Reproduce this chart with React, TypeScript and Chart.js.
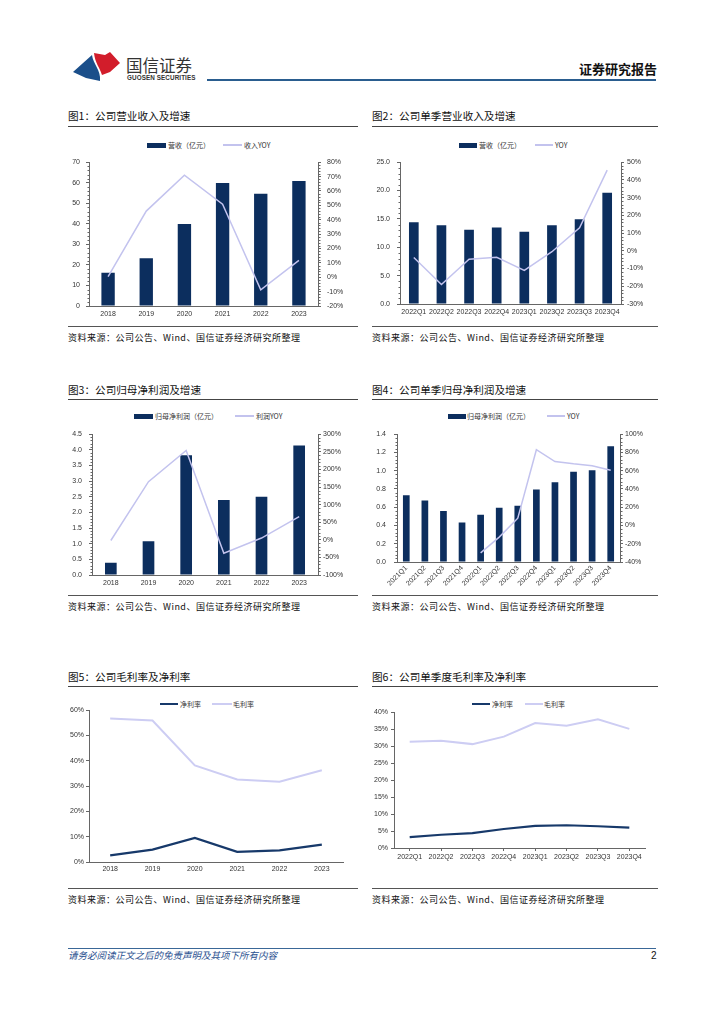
import React, { useEffect, useRef } from 'react';
import { Chart, registerables } from 'chart.js';
Chart.register(...registerables);

// ---------- data ----------
const years = ['2018', '2019', '2020', '2021', '2022', '2023'];
const quarters8 = ['2022Q1', '2022Q2', '2022Q3', '2022Q4', '2023Q1', '2023Q2', '2023Q3', '2023Q4'];
const quarters12 = ['2021Q1', '2021Q2', '2021Q3', '2021Q4', '2022Q1', '2022Q2', '2022Q3', '2022Q4', '2023Q1', '2023Q2', '2023Q3', '2023Q4'];

const revenue = [16.2, 23.3, 39.9, 59.9, 54.7, 60.9];
const revenueYoy = [0.4, 46, 71, 50.8, -8.7, 11.7];

const qRevenue = [14.4, 13.9, 13.1, 13.5, 12.75, 13.9, 14.95, 19.6];
const qRevenueYoy = [-3.8, -19, -4.7, -3.6, -11, -0.5, 13, 45.5];

const profit = [0.39, 1.08, 3.83, 2.4, 2.5, 4.14];
const profitYoy = [-2, 165, 254, -38, 5, 66];

const qProfit = [0.73, 0.675, 0.56, 0.434, 0.518, 0.595, 0.616, 0.795, 0.875, 0.99, 1.005, 1.267];
const qProfitYoy = [null, null, null, null, -30, -12.7, 8, 83, 70, 67.5, 65.5, 60.5];

const grossMargin = [56.7, 55.9, 38.2, 32.6, 31.7, 36.3];
const netMargin = [2.6, 4.9, 9.5, 4.0, 4.6, 6.9];

const qGrossMargin = [31.3, 31.6, 30.6, 32.8, 36.8, 36.0, 37.9, 35.1];
const qNetMargin = [3.2, 3.9, 4.4, 5.6, 6.5, 6.7, 6.4, 6.0];

const legend1 = ['营收（亿元）', '收入YOY'];
const legend2 = ['营收（亿元）', 'YOY'];
const legend3 = ['归母净利润（亿元）', '利润YOY'];
const legend4 = ['归母净利润（亿元）', 'YOY'];
const legend56 = ['净利率', '毛利率'];

const titles = [
  '图1：公司营业收入及增速',
  '图2：公司单季营业收入及增速',
  '图3：公司归母净利润及增速',
  '图4：公司单季归母净利润及增速',
  '图5：公司毛利率及净利率',
  '图6：公司单季度毛利率及净利率',
];
const sourceText = '资料来源：公司公告、Wind、国信证券经济研究所整理';

// ---------- styles ----------
const CJK = "'Noto Sans CJK SC', 'Noto Sans', sans-serif";
const LAT = "'Liberation Sans', Arial, sans-serif";
const NAVY = '#0c2e5e';
const NAVY2 = '#17396a';
const LAV = '#c3c3ee';
const LAV2 = '#cdcdf3';
const AXIS = '#666';
const TICK = '#333';

Chart.defaults.font.family = LAT;
Chart.defaults.font.size = 7;
Chart.defaults.color = TICK;

const minorTicksPlugin = {
  id: 'minorTicks',
  afterDraw(chart: any, _args: any, opts: any) {
    const list = (opts && opts.scales) || [];
    const ctx = chart.ctx;
    ctx.save();
    ctx.strokeStyle = AXIS;
    ctx.lineWidth = 1;
    list.forEach(({ id, n }: any) => {
      const s = chart.scales[id];
      if (!s) return;
      const ticks = s.ticks;
      for (let i = 0; i < ticks.length - 1; i++) {
        const v0 = ticks[i].value;
        const v1 = ticks[i + 1].value;
        for (let k = 1; k < n; k++) {
          const y = Math.round(s.getPixelForValue(v0 + ((v1 - v0) * k) / n)) + 0.5;
          const x = s.position === 'left' ? Math.round(s.right) + 0.5 : Math.round(s.left) + 0.5;
          ctx.beginPath();
          ctx.moveTo(x, y);
          ctx.lineTo(s.position === 'left' ? x - 2 : x + 2, y);
          ctx.stroke();
        }
      }
    });
    ctx.restore();
  },
};

const fixW = (w: number) => (scale: any) => { scale.width = w; };
const fixH = (h: number) => (scale: any) => { scale.height = h; };

function yAxis(pos: string, min: number, max: number, step: number, w: number, pad: number, fmt: (v: number) => string) {
  return {
    position: pos,
    min,
    max,
    grid: { display: true, drawOnChartArea: false, drawTicks: true, tickLength: 3, color: AXIS },
    border: { display: true, color: AXIS },
    ticks: { stepSize: step, padding: pad, color: TICK, font: { size: 7, family: LAT }, callback: (v: any) => fmt(Number(v)) },
    afterFit: fixW(w),
  };
}

function xAxis(h: number, pad: number, rotate: boolean, drawTicks: boolean) {
  return {
    offset: true,
    grid: drawTicks
      ? { display: true, drawOnChartArea: false, drawTicks: true, tickLength: 3, color: AXIS }
      : { display: false, drawTicks: false },
    border: { display: true, color: AXIS },
    ticks: {
      padding: pad,
      autoSkip: false,
      maxRotation: rotate ? 45 : 0,
      minRotation: rotate ? 45 : 0,
      color: TICK,
      font: { size: 7, family: LAT },
    },
    afterFit: fixH(h),
  };
}

const pct = (v: number) => `${Math.round(v)}%`;
const int = (v: number) => `${Math.round(v)}`;
const dec1 = (v: number) => v.toFixed(1);

function barLine(p: any) {
  return {
    type: 'bar',
    data: {
      labels: p.labels,
      datasets: [
        {
          type: 'line',
          label: p.names[1],
          data: p.line,
          yAxisID: 'y1',
          borderColor: LAV,
          backgroundColor: LAV,
          borderWidth: 1.5,
          pointRadius: 0,
          tension: 0,
          order: 0,
        },
        {
          type: 'bar',
          label: p.names[0],
          data: p.bars,
          yAxisID: 'y',
          backgroundColor: NAVY,
          borderWidth: 0,
          barPercentage: p.barPct,
          categoryPercentage: 1,
          order: 1,
        },
      ],
    },
    options: {
      animation: false,
      responsive: true,
      maintainAspectRatio: false,
      layout: { padding: { top: 6, left: 0, right: 0, bottom: 0 } },
      plugins: {
        legend: { display: false },
        tooltip: { enabled: false },
        minorTicks: { scales: [{ id: 'y', n: 5 }, { id: 'y1', n: 5 }] },
      },
      scales: {
        x: xAxis(p.xH, p.xPad, !!p.rotate, false),
        y: yAxis('left', p.y[0], p.y[1], p.y[2], p.leftW, p.leftPad, p.yFmt),
        y1: yAxis('right', p.y1[0], p.y1[1], p.y1[2], p.rightW, p.rightPad, pct),
      },
    },
    plugins: [minorTicksPlugin],
  };
}

function twoLines(p: any) {
  return {
    type: 'line',
    data: {
      labels: p.labels,
      datasets: [
        {
          label: legend56[0],
          data: p.net,
          borderColor: NAVY2,
          backgroundColor: NAVY2,
          borderWidth: 2.2,
          pointRadius: 0,
          tension: 0,
          order: 0,
        },
        {
          label: legend56[1],
          data: p.gross,
          borderColor: LAV2,
          backgroundColor: LAV2,
          borderWidth: 2,
          pointRadius: 0,
          tension: 0,
          order: 1,
        },
      ],
    },
    options: {
      animation: false,
      responsive: true,
      maintainAspectRatio: false,
      layout: { padding: { top: 6, left: 0, right: p.rightPad, bottom: 0 } },
      plugins: { legend: { display: false }, tooltip: { enabled: false } },
      scales: {
        x: xAxis(p.xH, p.xPad, false, p.xTicks),
        y: yAxis('left', p.y[0], p.y[1], p.y[2], p.leftW, p.leftPad, pct),
      },
    },
  };
}

function ChartCanvas({ left, top, width, height, make }: any) {
  const ref = useRef<HTMLCanvasElement | null>(null);
  useEffect(() => {
    const chart = new Chart(ref.current as HTMLCanvasElement, make() as any);
    return () => chart.destroy();
  }, []);
  return (
    <div style={{ position: 'absolute', left, top, width, height }}>
      <canvas ref={ref} />
    </div>
  );
}

const abs = (s: any) => ({ position: 'absolute' as const, whiteSpace: 'nowrap' as const, ...s });

function Txt({ x, y, size, children, style }: any) {
  return <div style={abs({ left: x, top: y - size / 2, fontSize: size, lineHeight: `${size}px`, fontFamily: CJK, color: '#222', ...style })}>{children}</div>;
}
function HLine({ x, y, w, h = 1, color }: any) {
  return <div style={abs({ left: x, top: y, width: w, height: h, background: color })} />;
}
function LegendRect({ x, y, w, h, color }: any) {
  return <div style={abs({ left: x, top: y - h / 2, width: w, height: h, background: color })} />;
}
function LegendText({ x, y, children }: any) {
  return <Txt x={x} y={y} size={7} style={{ color: '#333' }}>{children}</Txt>;
}

function Section({ x, titleY, lineW, title, srcY }: any) {
  return (
    <>
      <Txt x={x} y={titleY} size={10.6} style={{ color: '#111' }}>{title}</Txt>
      <HLine x={x} y={titleY + 9} w={lineW} color="#444" />
      <HLine x={x} y={srcY} w={lineW} color="#555" />
      <Txt x={x} y={srcY + 11} size={9} style={{ color: '#111', letterSpacing: '0.5px' }}>{sourceText}</Txt>
    </>
  );
}

export default function App() {
  return (
    <div style={{ position: 'absolute', left: 0, top: 0, width: 724, height: 1024, background: '#fff', overflow: 'hidden' }}>
      {/* header */}
      <svg style={{ position: 'absolute', left: 0, top: 0 }} width={200} height={100}>
        <path d="M73,72 L92,55 C93,64 101,70 100,81 L86,78 Z" fill="#1b4f8a" />
        <path d="M94,53 L105,55 L110,52 L120,63 L110,72 L102,75 C100,68 95,63 94,53 Z" fill="#d21d2b" />
      </svg>
      <Txt x={126} y={65} size={16.5} style={{ color: '#333' }}>国信证券</Txt>
      <Txt x={127} y={78.3} size={6.3} style={{ color: '#333', fontFamily: LAT, fontWeight: 700, letterSpacing: '0.1px' }}>GUOSEN SECURITIES</Txt>
      <div style={abs({ right: 67, top: 62, fontSize: 13, lineHeight: '13px', fontWeight: 700, fontFamily: CJK, color: '#111' })}>证券研究报告</div>
      <HLine x={207} y={78.5} w={449} h={2} color="#2a5d8f" />

      {/* sections */}
      <Section x={68} titleY={116.5} lineW={290} title={titles[0]} srcY={326} />
      <Section x={372} titleY={116.5} lineW={286} title={titles[1]} srcY={326} />
      <Section x={68} titleY={390} lineW={290} title={titles[2]} srcY={595} />
      <Section x={372} titleY={390} lineW={286} title={titles[3]} srcY={595} />
      <Section x={68} titleY={677} lineW={290} title={titles[4]} srcY={888} />
      <Section x={372} titleY={677} lineW={286} title={titles[5]} srcY={888} />

      {/* legends */}
      <LegendRect x={147} y={145} w={19} h={5} color={NAVY} />
      <LegendText x={168} y={145}>{legend1[0]}</LegendText>
      <LegendRect x={223} y={145} w={19} h={1.5} color={LAV} />
      <LegendText x={244} y={145}>{legend1[1]}</LegendText>

      <LegendRect x={459} y={145} w={18} h={5} color={NAVY} />
      <LegendText x={479} y={145}>{legend2[0]}</LegendText>
      <LegendRect x={535} y={145} w={18} h={1.5} color={LAV} />
      <LegendText x={555} y={145}>{legend2[1]}</LegendText>

      <LegendRect x={134} y={416} w={19} h={5} color={NAVY} />
      <LegendText x={155} y={416}>{legend3[0]}</LegendText>
      <LegendRect x={235} y={416} w={19} h={1.5} color={LAV} />
      <LegendText x={256} y={416}>{legend3[1]}</LegendText>

      <LegendRect x={448} y={416} w={18} h={5} color={NAVY} />
      <LegendText x={467} y={416}>{legend4[0]}</LegendText>
      <LegendRect x={547} y={416} w={18} h={1.5} color={LAV} />
      <LegendText x={567} y={416}>{legend4[1]}</LegendText>

      <LegendRect x={160} y={704} w={18} h={2.2} color={NAVY2} />
      <LegendText x={180} y={704}>{legend56[0]}</LegendText>
      <LegendRect x={212} y={704} w={20} h={2} color={LAV2} />
      <LegendText x={233} y={704}>{legend56[1]}</LegendText>

      <LegendRect x={472} y={704} w={18} h={2.2} color={NAVY2} />
      <LegendText x={492} y={704}>{legend56[0]}</LegendText>
      <LegendRect x={525} y={704} w={18} h={2} color={LAV2} />
      <LegendText x={544} y={704}>{legend56[1]}</LegendText>

      {/* charts */}
      <ChartCanvas left={60} top={152} width={300} height={172}
        make={() => barLine({ labels: years, bars: revenue, line: revenueYoy, names: legend1, barPct: 0.35,
          y: [0, 70, 10], y1: [-20, 80, 10], yFmt: int, leftW: 29, rightW: 42, leftPad: 6, rightPad: 6, xH: 18, xPad: 4 })} />
      <ChartCanvas left={362} top={151} width={300} height={171}
        make={() => barLine({ labels: quarters8, bars: qRevenue, line: qRevenueYoy, names: legend2, barPct: 0.35,
          y: [0, 25, 5], y1: [-30, 50, 10], yFmt: dec1, leftW: 38, rightW: 41, leftPad: 7, rightPad: 3, xH: 18, xPad: 4 })} />
      <ChartCanvas left={60} top={423} width={300} height={170}
        make={() => barLine({ labels: years, bars: profit, line: profitYoy, names: legend3, barPct: 0.31,
          y: [0, 4.5, 0.5], y1: [-100, 300, 50], yFmt: dec1, leftW: 32, rightW: 42, leftPad: 7, rightPad: 2, xH: 18, xPad: 4 })} />
      <ChartCanvas left={362} top={422} width={300} height={170}
        make={() => barLine({ labels: quarters12, bars: qProfit, line: qProfitYoy, names: legend4, barPct: 0.36, rotate: true,
          y: [0, 1.4, 0.2], y1: [-40, 100, 20], yFmt: dec1, leftW: 35, rightW: 42, leftPad: 8, rightPad: 2, xH: 30, xPad: 2 })} />
      <ChartCanvas left={60} top={704} width={290} height={174}
        make={() => twoLines({ labels: years, net: netMargin, gross: grossMargin, y: [0, 60, 10],
          leftW: 29, leftPad: 2, rightPad: 7, xH: 16, xPad: 3, xTicks: false })} />
      <ChartCanvas left={362} top={705} width={300} height={159}
        make={() => twoLines({ labels: quarters8, net: qNetMargin, gross: qGrossMargin, y: [0, 40, 5],
          leftW: 32, leftPad: 3, rightPad: 17, xH: 16, xPad: 2, xTicks: true })} />

      {/* footer */}
      <HLine x={68} y={948} w={588} h={1} color="#3a6797" />
      <Txt x={68} y={956} size={9.5} style={{ color: '#2a4f8f', fontStyle: 'italic' }}>请务必阅读正文之后的免责声明及其项下所有内容</Txt>
      <Txt x={651} y={956} size={10} style={{ color: '#111', fontFamily: LAT }}>2</Txt>
    </div>
  );
}
